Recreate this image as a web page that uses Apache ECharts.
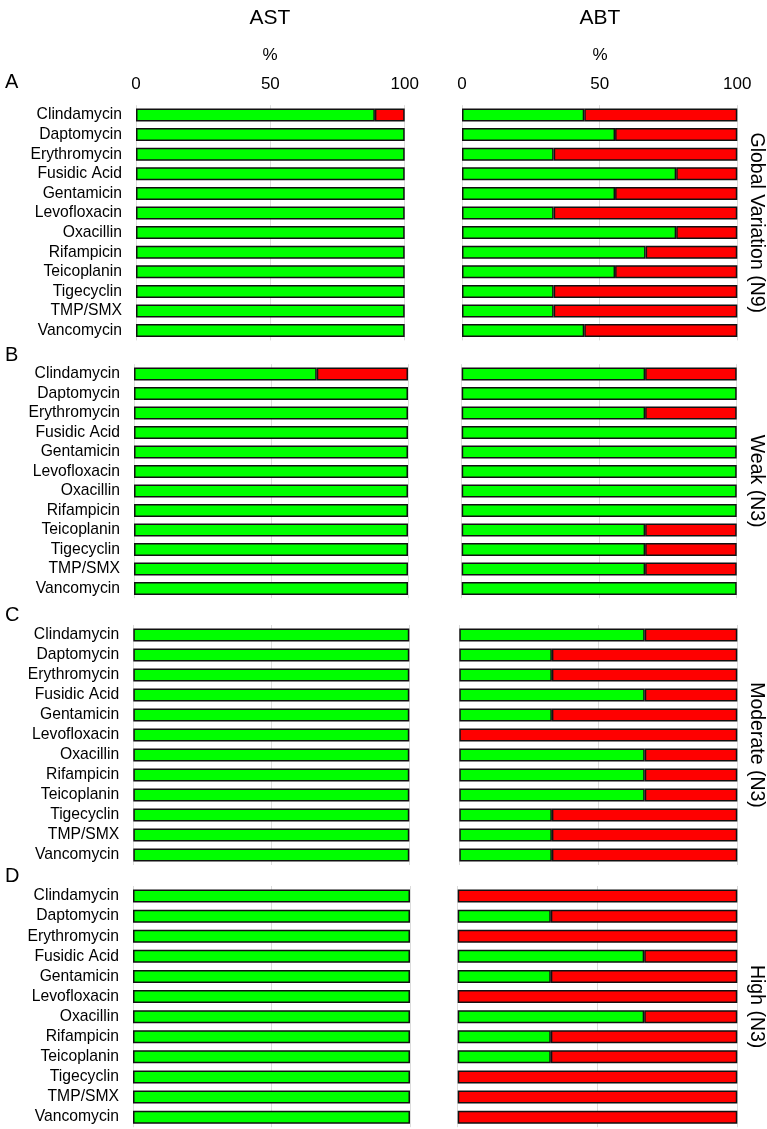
<!DOCTYPE html>
<html><head><meta charset="utf-8">
<script src="https://cdn.jsdelivr.net/npm/echarts@6/dist/echarts.min.js"></script>
<style>html,body{margin:0;padding:0;background:#fff}#c{width:767px;height:1129px}</style>
</head><body><div id="c"></div>
<script>
const categories = ['Clindamycin','Daptomycin','Erythromycin','Fusidic Acid','Gentamicin','Levofloxacin','Oxacillin','Rifampicin','Teicoplanin','Tigecyclin','TMP/SMX','Vancomycin'];
const xTicks = [0, 50, 100];
const panelLetters = ['A','B','C','D'];
const columnTitles = ['AST','ABT'];
const groupLabels = ['Global Variation (N9)','Weak (N3)','Moderate (N3)','High (N3)'];
// % susceptible (green); remainder resistant (red)
const astA = [88.9,100,100,100,100,100,100,100,100,100,100,100];
const abtA = [44.4,55.6,33.3,77.8,55.6,33.3,77.8,66.7,55.6,33.3,33.3,44.4];
const astB = [66.7,100,100,100,100,100,100,100,100,100,100,100];
const abtB = [66.7,100,66.7,100,100,100,100,100,66.7,66.7,66.7,100];
const astC = [100,100,100,100,100,100,100,100,100,100,100,100];
const abtC = [66.7,33.3,33.3,66.7,33.3,0,66.7,66.7,66.7,33.3,33.3,33.3];
const astD = [100,100,100,100,100,100,100,100,100,100,100,100];
const abtD = [0,33.3,0,66.7,33.3,0,66.7,33.3,33.3,0,0,0];

const panelsData = [[astA,abtA],[astB,abtB],[astC,abtC],[astD,abtD]];
// layout: [astLeft, astWidth, abtLeft, abtWidth, top, height, letterTop]
const layout = [
  [136, 268.7, 462, 275.3, 105.2, 235.2, 72],
  [134, 274, 461.7, 275, 364.2, 234, 345],
  [133.3, 276, 459.3, 278, 625, 240, 605],
  [133, 277, 457.7, 279.6, 886, 241.2, 866]
];
const FONT = 'Liberation Sans, Arial, sans-serif';
const grids=[], xAxes=[], yAxes=[], series=[], graphics=[];
const nz = v => (v > 0.0001 ? v : null);
panelsData.forEach((pd, p) => {
  const L = layout[p];
  pd.forEach((vals, k) => {
    const gi = grids.length;
    grids.push({left: k===0 ? L[0] : L[2], width: k===0 ? L[1] : L[3], top: L[4], height: L[5]});
    xAxes.push({type:'value', gridIndex:gi, min:xTicks[0], max:xTicks[2], interval:xTicks[1]-xTicks[0], position:'top',
      axisLine:{show:false}, axisTick:{show:false},
      axisLabel:{show:p===0, color:'#000', fontSize:17, fontFamily:FONT, margin:12},
      splitLine:{show:true, lineStyle:{color:'#dcdcdc', width:1}}});
    yAxes.push({type:'category', gridIndex:gi, data:categories, inverse:true,
      axisLine:{show:false}, axisTick:{show:false},
      axisLabel:{show:k===0, interval:0, color:'#000', fontSize:15.7, fontFamily:FONT, margin:14}});
    const common = {type:'bar', xAxisIndex:gi, yAxisIndex:gi, stack:'s'+gi, barWidth:13, silent:true};
    series.push(Object.assign({}, common, {name:'S', data: vals.map(v=>nz(v)), itemStyle:{color:'#00ff00', borderColor:'#111', borderWidth:1.5}}));
    series.push(Object.assign({}, common, {name:'R', data: vals.map(v=>nz(100-v)), itemStyle:{color:'#ff0000', borderColor:'#111', borderWidth:1.5}}));
  });
  graphics.push({type:'text', left:5, top: L[6], style:{text:panelLetters[p], font:'20px '+FONT, fill:'#000'}});
  graphics.push({type:'text', x:756, y:L[4]+L[5]/2, rotation:-Math.PI/2,
    style:{text:groupLabels[p], font:'19.5px '+FONT, fill:'#000', align:'center', verticalAlign:'middle'}});
});
columnTitles.forEach((t,k)=>{
  const cx = k===0 ? 270 : 600;
  graphics.push({type:'text', x:cx, y:18, style:{text:t, font:'21px '+FONT, fill:'#000', align:'center', verticalAlign:'middle'}});
  graphics.push({type:'text', x:cx, y:55, style:{text:'%', font:'17px '+FONT, fill:'#000', align:'center', verticalAlign:'middle'}});
});
const chart = echarts.init(document.getElementById('c'), null, {renderer:'canvas'});
chart.setOption({animation:false, grid:grids, xAxis:xAxes, yAxis:yAxes, series:series, graphic:graphics});
</script></body></html>
